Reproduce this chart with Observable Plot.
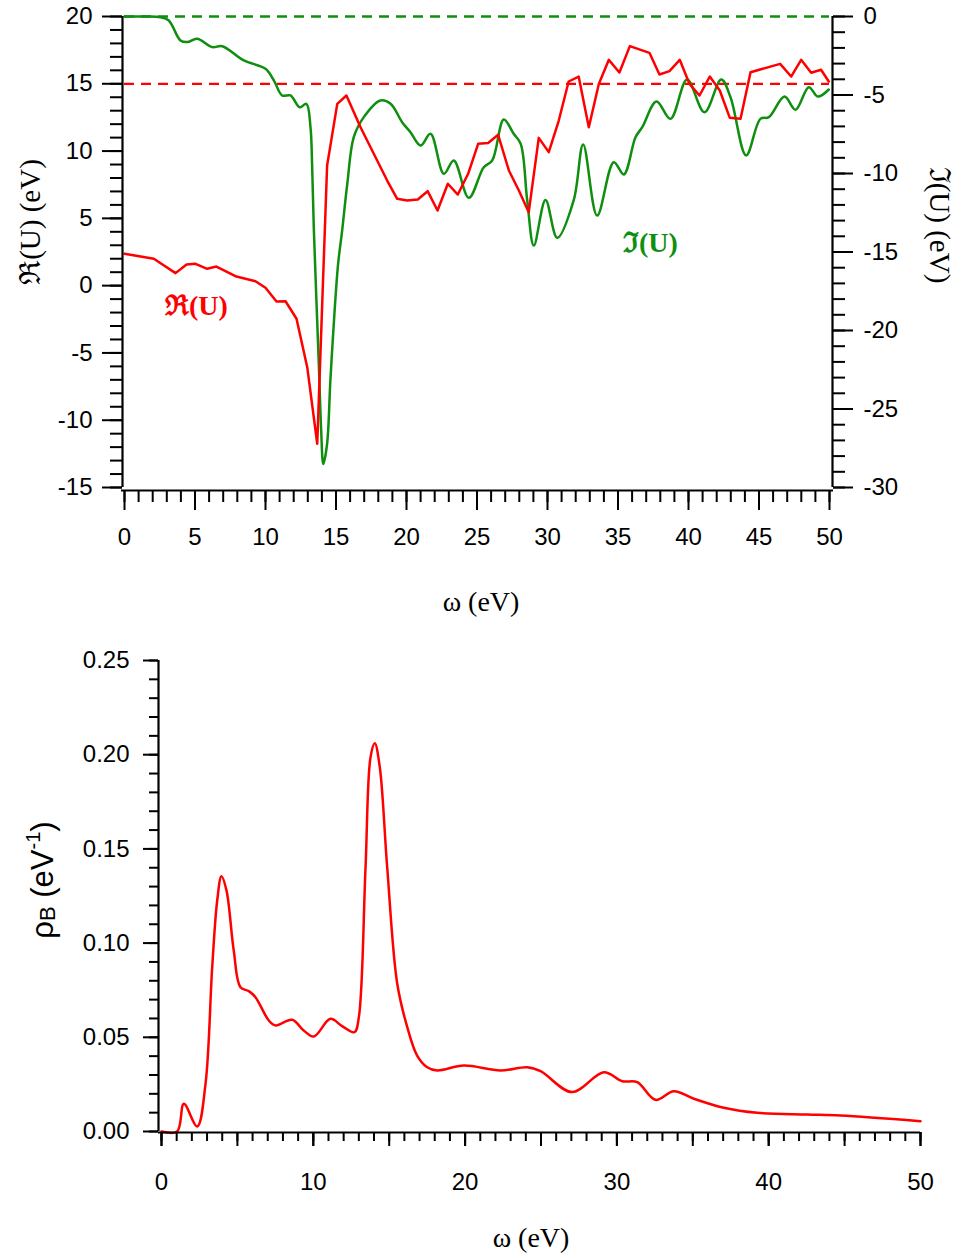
<!DOCTYPE html>
<html><head><meta charset="utf-8">
<script src="https://cdn.jsdelivr.net/npm/d3@7"></script>
<script src="https://cdn.jsdelivr.net/npm/@observablehq/plot@0.6"></script>
<style>
body{margin:0;background:#fff}
#chart{width:960px;height:1254px;position:relative}
#chart svg{display:block}
</style>
</head><body><div id="chart"></div>
<script>
// ---- Top panel: Re(U) (left axis) and Im(U) (right axis) vs omega ----
const reOmega = [0,2.08,3.62,4.4,5.04,5.86,6.52,7.87,9.29,10.0,10.78,11.42,12.2,12.96,13.67,14.37,15.09,15.74,16.74,17.68,18.63,19.34,20.05,20.8,21.5,22.2,22.93,23.64,24.37,25.08,25.79,26.5,27.26,27.97,28.67,29.38,30.09,30.8,31.5,32.21,32.93,33.64,34.35,35.1,35.84,37.23,37.94,38.65,39.38,40.07,40.78,41.51,42.22,42.93,43.69,44.4,46.5,47.28,47.99,48.7,49.4,49.95];
const reValues = [2.37,2.0,0.93,1.57,1.62,1.25,1.42,0.7,0.33,-0.16,-1.18,-1.16,-2.46,-6.06,-11.75,8.93,13.51,14.13,11.77,9.8,7.81,6.45,6.33,6.4,7.02,5.58,7.57,6.77,8.31,10.54,10.6,11.21,8.56,7.07,5.46,10.98,9.92,12.27,15.17,15.54,11.77,14.99,16.78,15.84,17.8,17.3,15.69,15.94,16.78,14.99,14.13,15.54,14.5,12.47,12.4,15.86,16.48,15.54,16.78,15.82,16.04,15.17];

const imOmega = [0,1.5,2.55,3.14,3.97,4.45,5.15,6.22,6.93,8.46,10.0,10.6,11.18,11.77,12.43,12.9,13.19,13.31,13.43,13.78,13.95,14.1,14.37,14.6,14.89,15.15,15.44,15.8,16.26,16.97,18.16,18.87,19.69,20.28,21.0,21.7,22.65,23.35,24.42,25.48,26.08,26.9,27.6,28.1,28.56,29.03,29.86,30.69,31.86,32.53,33.52,34.7,35.41,36.24,36.72,37.73,38.72,39.9,41.13,42.32,42.98,44.09,45.1,45.7,46.81,47.59,48.53,49.17,49.95];
const imValues = [0,0,-0.05,-0.25,-1.53,-1.63,-1.42,-1.95,-1.89,-2.8,-3.33,-4.08,-5.03,-5.03,-5.78,-5.56,-7.05,-9.6,-13.6,-22.1,-26.4,-28.5,-27.2,-23.2,-18.9,-15.75,-13.6,-10.66,-7.69,-6.41,-5.35,-5.56,-6.73,-7.37,-8.22,-7.47,-10.02,-9.17,-11.55,-9.6,-9.17,-6.56,-7.47,-8.11,-11.7,-14.59,-11.68,-14.1,-11.7,-8.15,-12.68,-9.28,-10.06,-7.69,-7.05,-5.41,-6.52,-4.01,-6.1,-4.01,-5.14,-8.85,-6.52,-6.41,-5.1,-5.94,-4.5,-5.1,-4.65];

const reRefLevel = 15;   // red dashed reference (left axis)
const imRefLevel = 0;    // green dashed reference (right axis)

const leftTicks = [-15,-10,-5,0,5,10,15,20];
const rightTicks = [-30,-25,-20,-15,-10,-5,0];
const topXTicks = [0,5,10,15,20,25,30,35,40,45,50];

// ---- Bottom panel: rho_B vs omega ----
const rhoOmega = [0,1.03,1.47,2.35,2.9,3.34,3.67,3.95,4.28,4.76,5.2,5.75,6.19,7.07,7.51,8.61,9.37,10.03,11.13,11.9,12.71,13.0,13.44,13.77,14.05,14.38,14.87,15.53,16.19,16.84,17.5,18.16,19.92,22.33,24.09,24.97,27.05,29.14,30.35,31.34,32.54,33.75,35.07,37.04,39.24,42.54,44.73,50.0];
const rhoValues = [0,0,0.0147,0.0027,0.0253,0.0872,0.1226,0.1355,0.128,0.096,0.0766,0.0745,0.0713,0.0589,0.0563,0.0593,0.0536,0.0504,0.0598,0.0559,0.0527,0.0607,0.14,0.1987,0.2061,0.1934,0.14,0.0784,0.0554,0.0403,0.0341,0.0324,0.035,0.0324,0.0341,0.032,0.0209,0.0315,0.0267,0.0262,0.0168,0.0214,0.0174,0.0126,0.0099,0.009,0.0085,0.0055];
const rhoYTicks = [0,0.05,0.10,0.15,0.20,0.25];
const rhoXTicks = [0,10,20,30,40,50];

const RED = "#ff0000", GREEN = "#0f8f0f";
const SANS = "'Liberation Sans', Arial, sans-serif";
const SERIF = "'Liberation Serif', 'Times New Roman', 'DejaVu Serif', serif";

// map right-axis (Im) values onto the left-axis (Re) scale: 0 -> 20, -30 -> -15
const toLeft = v => 20 + v * (35 / 30);
const fromLeft = y => Math.round((y - 20) * 30 / 35);

const reData = reOmega.map((w, i) => ({w, v: reValues[i]}));
const imData = imOmega.map((w, i) => ({w, v: toLeft(imValues[i])}));
const rhoData = rhoOmega.map((w, i) => ({w, v: rhoValues[i]}));

const axStyle = {fontSize: 24, strokeWidth: 2, strokeOpacity: 1, label: null};

const topPlot = Plot.plot({
  width: 960, height: 625,
  marginTop: 16, marginBottom: 138, marginLeft: 124, marginRight: 131,
  x: {domain: [0, 50]},
  y: {domain: [-15, 20]},
  style: {fontFamily: SANS, fontSize: "24px", color: "#000", background: "#fff"},
  marks: [
    Plot.ruleY([reRefLevel], {stroke: RED, strokeWidth: 2.3, strokeDasharray: "10,7"}),
    Plot.ruleY([toLeft(imRefLevel)], {stroke: GREEN, strokeWidth: 2.3, strokeDasharray: "10,7"}),
    Plot.line(imData, {x: "w", y: "v", stroke: GREEN, strokeWidth: 2.5, curve: "catmull-rom"}),
    Plot.line(reData, {x: "w", y: "v", stroke: RED, strokeWidth: 2.5}),
    // frame (left, right, bottom)
    Plot.ruleX([0], {y1: -15, y2: 20, dx: -2, stroke: "#000", strokeWidth: 2.2}),
    Plot.ruleX([50], {y1: -15, y2: 20, dx: 3, stroke: "#000", strokeWidth: 2.2}),
    Plot.ruleY([-15], {dy: 3, insetLeft: -3, insetRight: -4, stroke: "#000", strokeWidth: 2.2}),
    // axes
    Plot.axisY(leftTicks, {anchor: "left", tickSize: 20, tickPadding: 10, dx: -2, tickFormat: d => String(d), ...axStyle}),
    Plot.axisY(d3.range(-15, 21, 1), {anchor: "left", tickSize: 12, dx: -2, fill: "none", tickFormat: () => "", ...axStyle}),
    Plot.axisY(rightTicks.map(toLeft), {anchor: "right", tickSize: 20, tickPadding: 11, dx: 3, tickFormat: d => String(fromLeft(d)), ...axStyle}),
    Plot.axisY(d3.range(-30, 1, 1).map(toLeft), {anchor: "right", tickSize: 12, dx: 3, fill: "none", tickFormat: () => "", ...axStyle}),
    Plot.axisX(topXTicks, {anchor: "bottom", tickSize: 20, tickPadding: 17, dy: 3, tickFormat: d => String(d), ...axStyle}),
    Plot.axisX(d3.range(0, 51, 1), {anchor: "bottom", tickSize: 12, dy: 3, fill: "none", tickFormat: () => "", ...axStyle}),
    // in-plot labels
    Plot.text(["ℜ(U)"], {x: 5.1, y: -1.5, text: d => d, fill: RED, fontSize: 28, fontWeight: "bold", fontFamily: SERIF}),
    Plot.text(["ℑ(U)"], {x: 37.3, y: 3.2, text: d => d, fill: GREEN, fontSize: 28, fontWeight: "bold", fontFamily: SERIF})
  ]
});

const bottomPlot = Plot.plot({
  width: 960, height: 614,
  marginTop: 20, marginBottom: 123, marginLeft: 161, marginRight: 40,
  x: {domain: [0, 50]},
  y: {domain: [0, 0.25]},
  style: {fontFamily: SANS, fontSize: "24px", color: "#000", background: "#fff"},
  marks: [
    Plot.line(rhoData, {x: "w", y: "v", stroke: RED, strokeWidth: 2.5, curve: "catmull-rom"}),
    Plot.ruleX([0], {y1: 0, y2: 0.25, dx: -3, stroke: "#000", strokeWidth: 2.2}),
    Plot.ruleY([0], {dy: 1, insetLeft: -3, stroke: "#000", strokeWidth: 2.2}),
    Plot.axisY(rhoYTicks, {anchor: "left", tickSize: 15, tickPadding: 14, dx: -3, tickFormat: d => d.toFixed(2), ...axStyle}),
    Plot.axisY(d3.range(0, 26, 1).map(i => i / 100), {anchor: "left", tickSize: 9, dx: -3, fill: "none", tickFormat: () => "", ...axStyle}),
    Plot.axisX(rhoXTicks, {anchor: "bottom", tickSize: 14, tickPadding: 26, dy: 1, tickFormat: d => String(d), ...axStyle}),
    Plot.axisX(d3.range(0, 51, 5), {anchor: "bottom", tickSize: 14, dy: 1, fill: "none", tickFormat: () => "", ...axStyle}),
    Plot.axisX(d3.range(0, 51, 1), {anchor: "bottom", tickSize: 9, dy: 1, fill: "none", tickFormat: () => "", ...axStyle})
  ]
});

const chart = document.getElementById("chart");
chart.appendChild(topPlot);
bottomPlot.style.marginTop = "15px";
chart.appendChild(bottomPlot);

// axis titles
const ts = d3.select(topPlot);
ts.append("text").attr("x", 481).attr("y", 601).attr("text-anchor", "middle").attr("dominant-baseline", "central")
  .attr("font-family", SERIF).attr("font-size", 28).attr("fill", "#000").text("ω (eV)");
ts.append("text").attr("transform", "translate(30,222) rotate(-90)").attr("text-anchor", "middle").attr("dominant-baseline", "central")
  .attr("font-family", SERIF).attr("font-size", 29).attr("fill", "#000").text("ℜ(U) (eV)");
ts.append("text").attr("transform", "translate(940,225) rotate(90)").attr("text-anchor", "middle").attr("dominant-baseline", "central")
  .attr("font-family", SERIF).attr("font-size", 29).attr("fill", "#000").text("ℑ(U) (eV)");

const bs = d3.select(bottomPlot);
bs.append("text").attr("x", 531).attr("y", 597).attr("text-anchor", "middle").attr("dominant-baseline", "central")
  .attr("font-family", SERIF).attr("font-size", 28).attr("fill", "#000").text("ω (eV)");
const yl = bs.append("text").attr("transform", "translate(42,240) rotate(-90)").attr("text-anchor", "middle")
  .attr("dominant-baseline", "central").attr("font-family", SANS).attr("font-size", 31).attr("fill", "#000");
yl.append("tspan").text("ρ");
yl.append("tspan").attr("baseline-shift", "-25%").attr("font-size", 22).text("B");
yl.append("tspan").text(" (eV");
yl.append("tspan").attr("baseline-shift", "45%").attr("font-size", 20).text("-1");
yl.append("tspan").text(")");
</script>
</body></html>
